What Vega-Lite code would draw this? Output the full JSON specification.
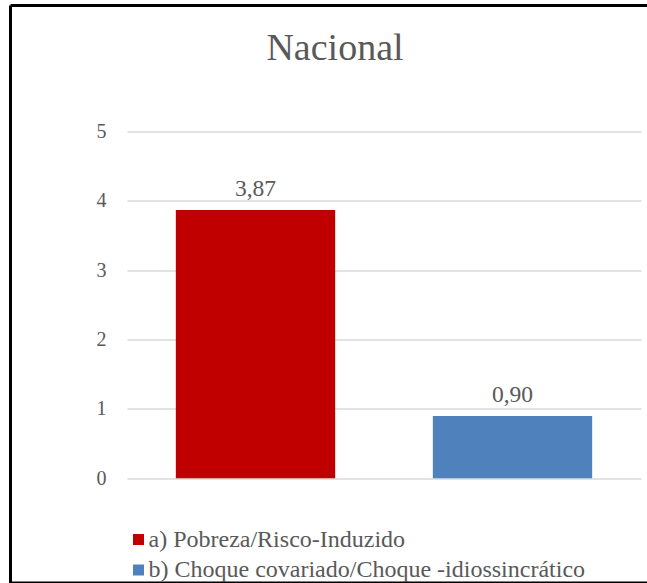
{
  "$schema": "https://vega.github.io/schema/vega-lite/v6.json",
  "autosize": {"type": "none"},
  "padding": {"left": 10.5, "top": 5.5, "right": 0, "bottom": 0},
  "width": 636.5,
  "height": 577.5,
  "background": "#ffffff",
  "data": {
    "values": [
      {"serie": "a) Pobreza/Risco-Induzido", "valor": 3.87},
      {"serie": "b) Choque covariado/Choque -idiossincrático", "valor": 0.90}
    ]
  },
  "title": {
    "text": "Nacional",
    "font": "Liberation Serif",
    "fontSize": 38,
    "fontWeight": "normal",
    "color": "#595959",
    "anchor": "middle",
    "frame": "group",
    "baseline": "alphabetic",
    "offset": -54.5,
    "dy": 38,
    "dx": 6.25
  },
  "encoding": {
    "x": {
      "field": "serie",
      "type": "nominal",
      "sort": null,
      "axis": null,
      "scale": {"range": [116.5, 630.5], "paddingInner": 0.38, "paddingOuter": 0.19}
    },
    "y": {
      "field": "valor",
      "type": "quantitative",
      "scale": {"domain": [-1.51, 6.818], "nice": false, "zero": false},
      "axis": {
        "title": null,
        "values": [0, 1, 2, 3, 4, 5],
        "domain": false,
        "ticks": false,
        "labelPadding": 0,
        "offset": -95.5,
        "labelFont": "Liberation Serif",
        "labelFontSize": 20,
        "labelColor": "#595959",
        "gridColor": "#d9d9d9",
        "gridWidth": 1.5
      }
    }
  },
  "layer": [
    {
      "mark": {"type": "bar"},
      "encoding": {
        "color": {
          "field": "serie",
          "type": "nominal",
          "sort": null,
          "scale": {"range": ["#C00000", "#4F81BD"]},
          "legend": {
            "title": null,
            "orient": "none",
            "legendX": 116,
            "legendY": 522,
            "symbolType": "square",
            "symbolSize": 121,
            "symbolStrokeWidth": 0,
            "symbolOpacity": 1,
            "labelFont": "Liberation Serif",
            "labelFontSize": 24,
            "labelColor": "#595959",
            "labelOffset": -2,
            "rowPadding": 6.5,
            "padding": 0,
            "labelLimit": 600
          }
        }
      }
    },
    {
      "mark": {
        "type": "text",
        "baseline": "alphabetic",
        "dy": -14,
        "font": "Liberation Serif",
        "fontSize": 23.5,
        "color": "#595959"
      },
      "encoding": {
        "text": {"field": "valor", "type": "quantitative", "format": ".2f"}
      }
    }
  ],
  "config": {
    "font": "Liberation Serif",
    "locale": {
      "number": {"decimal": ",", "thousands": ".", "grouping": [3], "currency": ["", " €"]}
    },
    "view": {"stroke": "#000000", "strokeWidth": 3, "strokeDash": [636.5, 577.5, 1214, 0]}
  }
}
